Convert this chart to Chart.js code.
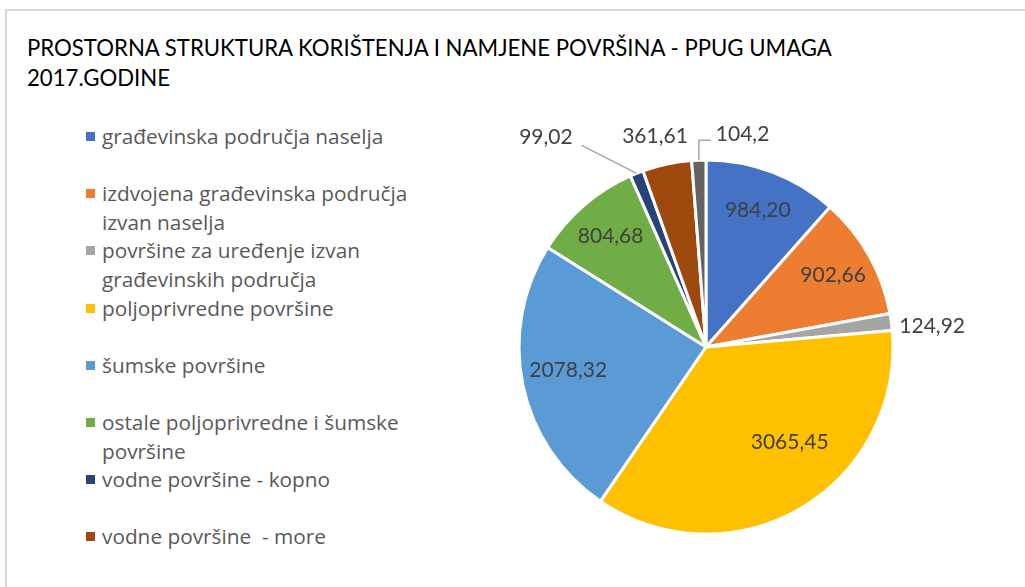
<!DOCTYPE html>
<html>
<head>
<meta charset="utf-8">
<script src="https://cdn.jsdelivr.net/npm/chart.js@4"></script>
<style>
  body { margin: 0; background: #fff; }
  #wrap { position: relative; width: 1025px; height: 587px; overflow: hidden; }
  #frame { position: absolute; left: 5px; top: 9px; width: 1030px; height: 600px; border-top: 2px solid #d9d9d9; border-left: 2px solid #d9d9d9; }
  #title { position: absolute; left: 27px; top: 33px; font-family: Lato; font-size: 22.2px; line-height: 30px; color: #000; white-space: pre; }
  #legend { position: absolute; left: 86px; top: 122px; margin: 0; padding: 0; list-style: none; font-family: 'Open Sans'; font-size: 20.8px; color: #595959; }
  #legend li { position: relative; height: 57.2px; line-height: 28.6px; padding-left: 16px; white-space: pre; }
  #legend li span { position: absolute; left: 0; top: 10px; width: 9px; height: 9px; }
  canvas { position: absolute; left: 0; top: 0; }
</style>
</head>
<body>
<div id="wrap">
  <div id="frame"></div>
  <div id="title"></div>
  <ul id="legend"></ul>
  <canvas id="pie" width="1025" height="587"></canvas>
</div>
<script>
const titleLines = ['PROSTORNA STRUKTURA KORIŠTENJA I NAMJENE POVRŠINA - PPUG UMAGA', '2017.GODINE']

const labels = [
  'građevinska područja naselja',
  ['izdvojena građevinska područja', 'izvan naselja'],
  ['površine za uređenje izvan', 'građevinskih područja'],
  'poljoprivredne površine',
  'šumske površine',
  ['ostale poljoprivredne i šumske', 'površine'],
  'vodne površine - kopno',
  'vodne površine  - more',
  ''
]
const values = [984.20, 902.66, 124.92, 3065.45, 2078.32, 804.68, 99.02, 361.61, 104.2]
const valueLabels = ['984,20', '902,66', '124,92', '3065,45', '2078,32', '804,68', '99,02', '361,61', '104,2']
const colors = ['#4472C4', '#ED7D31', '#A5A5A5', '#FFC000', '#5B9BD5', '#70AD47', '#264478', '#9E480E', '#636363']

document.getElementById('title').textContent = titleLines.join('\n')

// value labels: inside at a fraction of the radius, a few small slices outside
const sliceLabels = {
  id: 'sliceLabels',
  afterDatasetsDraw(chart, args, opts) {
    const ctx = chart.ctx
    const meta = chart.getDatasetMeta(0)
    ctx.save()
    ctx.font = opts.font
    ctx.fillStyle = opts.color
    ctx.textBaseline = 'middle'
    meta.data.forEach((arc, i) => {
      const {x, y, startAngle, endAngle, outerRadius} = arc.getProps(['x', 'y', 'startAngle', 'endAngle', 'outerRadius'], true)
      const mid = (startAngle + endAngle) / 2
      const out = opts.outside[i]
      if (!out) {
        const nudge = opts.nudge[i] || [0, 0]
        ctx.textAlign = 'center'
        ctx.fillText(valueLabels[i],
          x + Math.cos(mid) * outerRadius * opts.inside + nudge[0],
          y + Math.sin(mid) * outerRadius * opts.inside + nudge[1])
        return
      }
      const ex = x + Math.cos(mid) * outerRadius
      const ey = y + Math.sin(mid) * outerRadius
      if (out.line) {
        ctx.beginPath()
        ctx.moveTo(ex, ey)
        out.line.forEach(p => ctx.lineTo(ex + p[0], ey + p[1]))
        ctx.strokeStyle = opts.lineColor
        ctx.lineWidth = 1.5
        ctx.stroke()
      }
      ctx.textAlign = out.align
      ctx.fillText(valueLabels[i], ex + out.dx, ey + out.dy)
    })
    ctx.restore()
  }
}

const chart = new Chart(document.getElementById('pie'), {
  type: 'pie',
  data: {
    labels: labels,
    datasets: [{
      data: values,
      backgroundColor: colors,
      borderColor: '#ffffff',
      borderWidth: 3
    }]
  },
  options: {
    responsive: false,
    animation: false,
    events: [],
    radius: 187,
    layout: { padding: { left: 480, right: 93, top: 140, bottom: 33 } },
    plugins: {
      legend: { display: false },
      tooltip: { enabled: false },
      sliceLabels: {
        font: '21px Lato',
        color: '#404040',
        lineColor: '#a6a6a6',
        inside: 0.78,
        nudge: { 3: [10, -31], 4: [5, -6] },
        outside: {
          2: { dx: 8, dy: 4, align: 'left' },
          6: { line: [[-55, -28]], dx: -64, dy: -36, align: 'right' },
          7: { dx: -12, dy: -28, align: 'center' },
          8: { line: [[0, -20], [12, -20]], dx: 17, dy: -26, align: 'left' }
        }
      }
    }
  },
  plugins: [sliceLabels]
})

// html legend built from the chart data
const legend = document.getElementById('legend')
chart.data.labels.forEach((lbl, i) => {
  if (!lbl) return
  const li = document.createElement('li')
  const box = document.createElement('span')
  box.style.background = colors[i]
  li.appendChild(box)
  li.appendChild(document.createTextNode(Array.isArray(lbl) ? lbl.join('\n') : lbl))
  legend.appendChild(li)
})
</script>
</body>
</html>
